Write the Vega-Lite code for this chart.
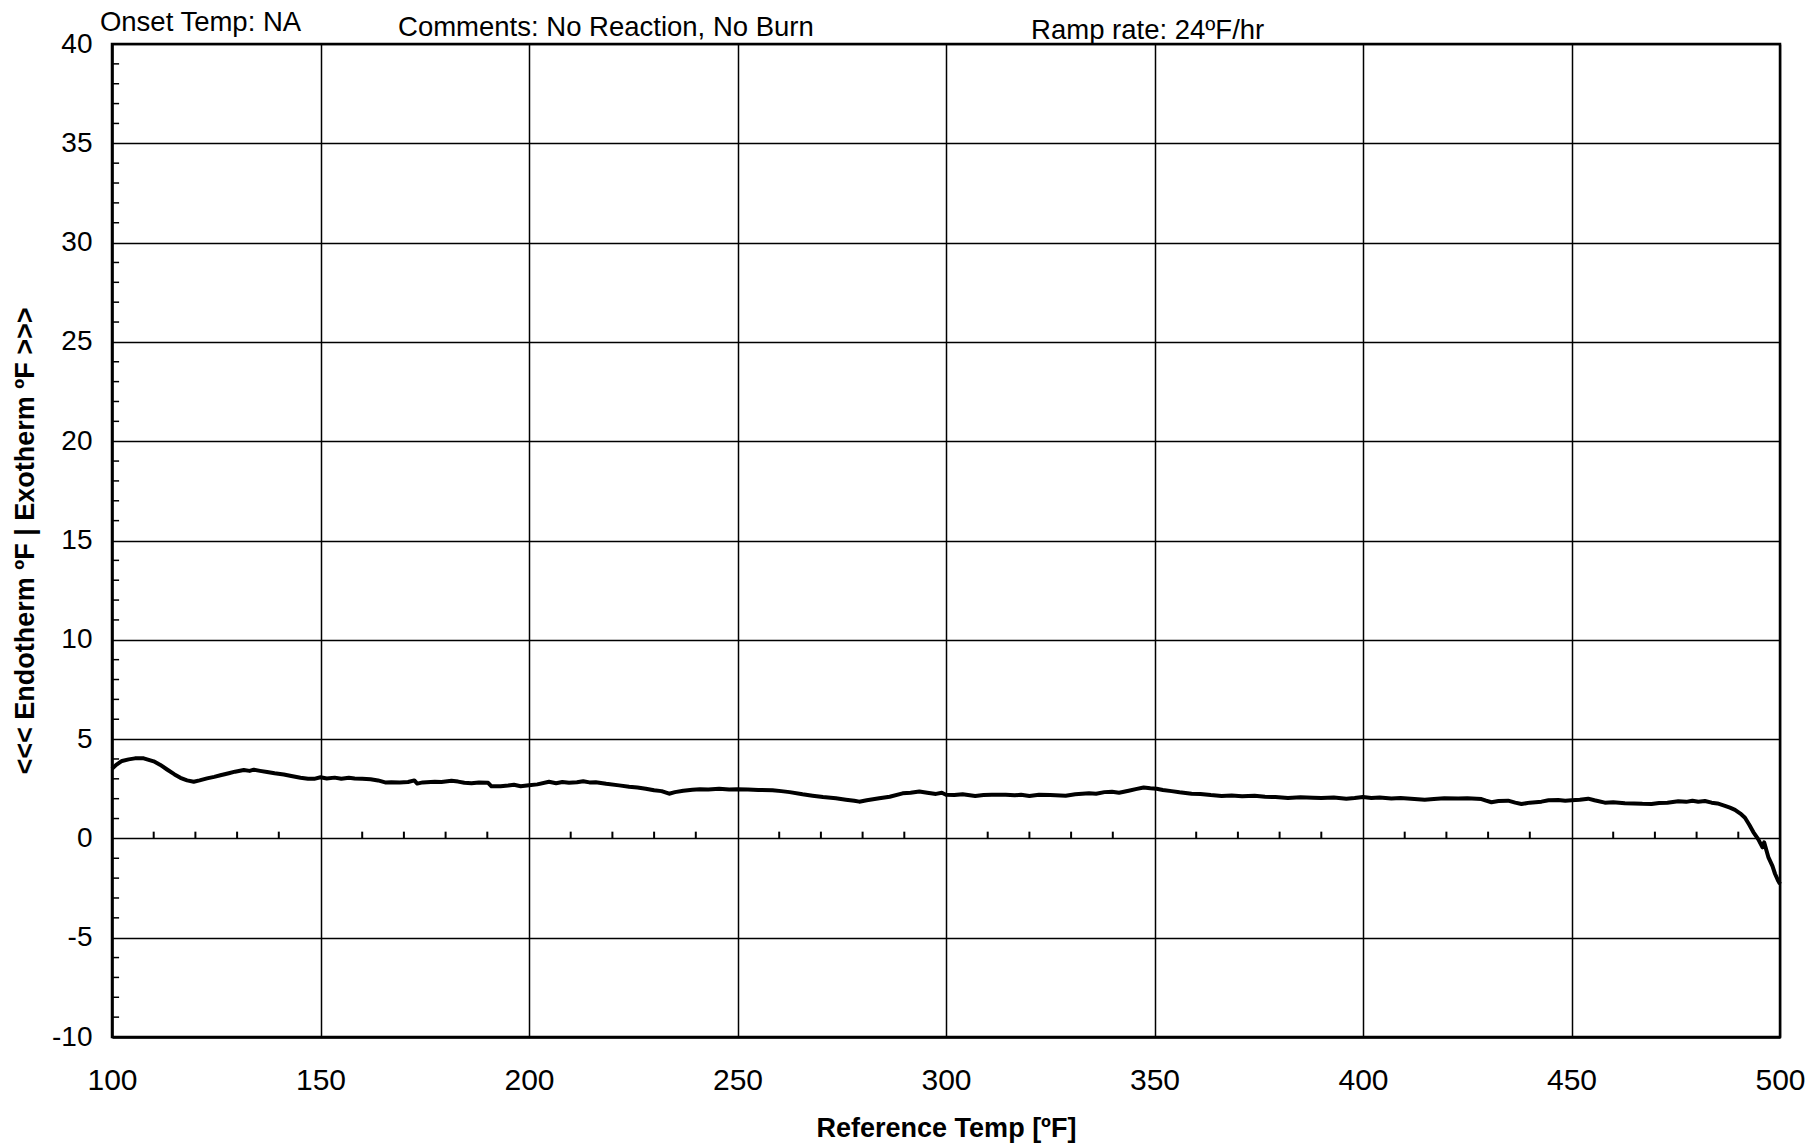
{
  "$schema": "https://vega.github.io/schema/vega-lite/v6.json",
  "width": 1668,
  "height": 993,
  "autosize": {"type": "none"},
  "padding": {"left": 112, "top": 44, "right": 31, "bottom": 110},
  "background": "white",
  "config": {
    "view": {"stroke": "black", "strokeWidth": 2.5},
    "font": "Liberation Sans"
  },
  "datasets": {
    "curve": [
      {"ref": 100, "delta": 3.5}, {"ref": 101, "delta": 3.7}, {"ref": 102.4, "delta": 3.9}, {"ref": 104, "delta": 3.98},
      {"ref": 105.5, "delta": 4.03}, {"ref": 107.6, "delta": 4.03}, {"ref": 110, "delta": 3.88}, {"ref": 111.6, "delta": 3.7},
      {"ref": 113.2, "delta": 3.47}, {"ref": 115, "delta": 3.22}, {"ref": 116.4, "delta": 3.05}, {"ref": 118, "delta": 2.92},
      {"ref": 119.6, "delta": 2.85}, {"ref": 121, "delta": 2.92}, {"ref": 122.8, "delta": 3.02}, {"ref": 124.5, "delta": 3.1},
      {"ref": 126, "delta": 3.18}, {"ref": 128, "delta": 3.28}, {"ref": 129.5, "delta": 3.36}, {"ref": 131.6, "delta": 3.44},
      {"ref": 133, "delta": 3.4}, {"ref": 134, "delta": 3.46}, {"ref": 135.5, "delta": 3.4}, {"ref": 137.2, "delta": 3.34},
      {"ref": 139, "delta": 3.28}, {"ref": 141.2, "delta": 3.22}, {"ref": 143, "delta": 3.14}, {"ref": 145.2, "delta": 3.05},
      {"ref": 147, "delta": 3.0}, {"ref": 148.5, "delta": 3.0}, {"ref": 150, "delta": 3.08}, {"ref": 151.5, "delta": 3.02},
      {"ref": 153.4, "delta": 3.06}, {"ref": 155, "delta": 3.0}, {"ref": 156.8, "delta": 3.05}, {"ref": 158.2, "delta": 3.02},
      {"ref": 160, "delta": 3.0}, {"ref": 162, "delta": 2.98}, {"ref": 163.8, "delta": 2.92}, {"ref": 165.5, "delta": 2.82},
      {"ref": 167, "delta": 2.83}, {"ref": 169, "delta": 2.82}, {"ref": 171, "delta": 2.84}, {"ref": 172.5, "delta": 2.92},
      {"ref": 173.2, "delta": 2.76}, {"ref": 174.5, "delta": 2.82}, {"ref": 177.4, "delta": 2.85}, {"ref": 179, "delta": 2.84},
      {"ref": 181.4, "delta": 2.9}, {"ref": 183, "delta": 2.86}, {"ref": 184.5, "delta": 2.8}, {"ref": 186.2, "delta": 2.78},
      {"ref": 188, "delta": 2.82}, {"ref": 190.2, "delta": 2.8}, {"ref": 191, "delta": 2.62}, {"ref": 193.2, "delta": 2.63},
      {"ref": 195, "delta": 2.66}, {"ref": 196.4, "delta": 2.7}, {"ref": 198, "delta": 2.63}, {"ref": 200, "delta": 2.68},
      {"ref": 202, "delta": 2.72}, {"ref": 204.8, "delta": 2.85}, {"ref": 206.5, "delta": 2.78}, {"ref": 208, "delta": 2.84},
      {"ref": 209.6, "delta": 2.8}, {"ref": 211.5, "delta": 2.83}, {"ref": 213, "delta": 2.88}, {"ref": 214.5, "delta": 2.82},
      {"ref": 216, "delta": 2.83}, {"ref": 218.5, "delta": 2.75}, {"ref": 221.6, "delta": 2.67}, {"ref": 224, "delta": 2.6},
      {"ref": 226, "delta": 2.56}, {"ref": 228, "delta": 2.5}, {"ref": 230, "delta": 2.42}, {"ref": 231.8, "delta": 2.38},
      {"ref": 233.6, "delta": 2.25}, {"ref": 235, "delta": 2.33}, {"ref": 237, "delta": 2.4}, {"ref": 239.2, "delta": 2.45},
      {"ref": 241, "delta": 2.48}, {"ref": 243, "delta": 2.46}, {"ref": 245.6, "delta": 2.5}, {"ref": 248, "delta": 2.46},
      {"ref": 250, "delta": 2.48}, {"ref": 252.5, "delta": 2.46}, {"ref": 255, "delta": 2.44}, {"ref": 258.4, "delta": 2.43},
      {"ref": 260.5, "delta": 2.38}, {"ref": 262.5, "delta": 2.33}, {"ref": 265.6, "delta": 2.22}, {"ref": 268, "delta": 2.15},
      {"ref": 270.5, "delta": 2.08}, {"ref": 273.6, "delta": 2.02}, {"ref": 276, "delta": 1.95}, {"ref": 278, "delta": 1.9},
      {"ref": 279.2, "delta": 1.85}, {"ref": 281, "delta": 1.92}, {"ref": 284, "delta": 2.02}, {"ref": 286.5, "delta": 2.1},
      {"ref": 289.6, "delta": 2.27}, {"ref": 291.5, "delta": 2.3}, {"ref": 293.6, "delta": 2.36}, {"ref": 295.5, "delta": 2.3},
      {"ref": 297.6, "delta": 2.24}, {"ref": 299, "delta": 2.3}, {"ref": 300, "delta": 2.2}, {"ref": 302, "delta": 2.18},
      {"ref": 304, "delta": 2.22}, {"ref": 307, "delta": 2.14}, {"ref": 309, "delta": 2.18}, {"ref": 311, "delta": 2.2},
      {"ref": 314.3, "delta": 2.2}, {"ref": 316.5, "delta": 2.17}, {"ref": 318, "delta": 2.2}, {"ref": 320, "delta": 2.14},
      {"ref": 322.3, "delta": 2.2}, {"ref": 325, "delta": 2.18}, {"ref": 328.7, "delta": 2.15}, {"ref": 331, "delta": 2.22},
      {"ref": 334.3, "delta": 2.27}, {"ref": 336, "delta": 2.25}, {"ref": 338, "delta": 2.33}, {"ref": 339.8, "delta": 2.35},
      {"ref": 341.5, "delta": 2.3}, {"ref": 343.8, "delta": 2.4}, {"ref": 345.5, "delta": 2.48}, {"ref": 347.4, "delta": 2.56},
      {"ref": 349, "delta": 2.52}, {"ref": 350.5, "delta": 2.5}, {"ref": 352, "delta": 2.44}, {"ref": 354.1, "delta": 2.38},
      {"ref": 356, "delta": 2.32}, {"ref": 358.9, "delta": 2.25}, {"ref": 361, "delta": 2.24}, {"ref": 363.5, "delta": 2.18},
      {"ref": 366.1, "delta": 2.14}, {"ref": 368.5, "delta": 2.16}, {"ref": 371, "delta": 2.12}, {"ref": 374, "delta": 2.15},
      {"ref": 376.5, "delta": 2.1}, {"ref": 379, "delta": 2.08}, {"ref": 382, "delta": 2.04}, {"ref": 385, "delta": 2.07},
      {"ref": 388, "delta": 2.05}, {"ref": 390, "delta": 2.04}, {"ref": 393, "delta": 2.06}, {"ref": 396, "delta": 2.0},
      {"ref": 398, "delta": 2.03}, {"ref": 400, "delta": 2.08}, {"ref": 402, "delta": 2.04}, {"ref": 404, "delta": 2.06},
      {"ref": 406.8, "delta": 2.01}, {"ref": 409, "delta": 2.03}, {"ref": 411.5, "delta": 2.0}, {"ref": 414.8, "delta": 1.95},
      {"ref": 417, "delta": 1.98}, {"ref": 419.5, "delta": 2.02}, {"ref": 422.8, "delta": 2.01}, {"ref": 425, "delta": 2.02},
      {"ref": 428.4, "delta": 1.98}, {"ref": 429.5, "delta": 1.9}, {"ref": 430.8, "delta": 1.82}, {"ref": 432.5, "delta": 1.88},
      {"ref": 434.8, "delta": 1.9}, {"ref": 436.5, "delta": 1.8}, {"ref": 438, "delta": 1.73}, {"ref": 440, "delta": 1.8},
      {"ref": 442.8, "delta": 1.85}, {"ref": 444.5, "delta": 1.92}, {"ref": 446.8, "delta": 1.93}, {"ref": 448.5, "delta": 1.9},
      {"ref": 450, "delta": 1.92}, {"ref": 452, "delta": 1.95}, {"ref": 454, "delta": 2.0}, {"ref": 455.5, "delta": 1.92},
      {"ref": 458, "delta": 1.8}, {"ref": 460, "delta": 1.82}, {"ref": 462.8, "delta": 1.77}, {"ref": 465, "delta": 1.76},
      {"ref": 467, "delta": 1.74}, {"ref": 469.2, "delta": 1.73}, {"ref": 471, "delta": 1.78}, {"ref": 473, "delta": 1.8},
      {"ref": 475.6, "delta": 1.87}, {"ref": 477.5, "delta": 1.84}, {"ref": 479, "delta": 1.9}, {"ref": 480.4, "delta": 1.85},
      {"ref": 482, "delta": 1.88}, {"ref": 483.6, "delta": 1.8}, {"ref": 485, "delta": 1.76}, {"ref": 486.8, "delta": 1.64},
      {"ref": 488, "delta": 1.55}, {"ref": 489.2, "delta": 1.44}, {"ref": 490.5, "delta": 1.25}, {"ref": 491.6, "delta": 1.04},
      {"ref": 492.6, "delta": 0.7}, {"ref": 493.6, "delta": 0.32}, {"ref": 494.8, "delta": -0.05}, {"ref": 495.8, "delta": -0.45},
      {"ref": 496.2, "delta": -0.2}, {"ref": 497.2, "delta": -0.94}, {"ref": 498.2, "delta": -1.4}, {"ref": 498.8, "delta": -1.78},
      {"ref": 499.6, "delta": -2.15}, {"ref": 500, "delta": -2.3}
    ],
    "xticks": [
      {"t": 110}, {"t": 120}, {"t": 130}, {"t": 140}, {"t": 160}, {"t": 170}, {"t": 180}, {"t": 190},
      {"t": 210}, {"t": 220}, {"t": 230}, {"t": 240}, {"t": 260}, {"t": 270}, {"t": 280}, {"t": 290},
      {"t": 310}, {"t": 320}, {"t": 330}, {"t": 340}, {"t": 360}, {"t": 370}, {"t": 380}, {"t": 390},
      {"t": 410}, {"t": 420}, {"t": 430}, {"t": 440}, {"t": 460}, {"t": 470}, {"t": 480}, {"t": 490}
    ],
    "yticks": [
      {"v": -9}, {"v": -8}, {"v": -7}, {"v": -6}, {"v": -4}, {"v": -3}, {"v": -2}, {"v": -1},
      {"v": 1}, {"v": 2}, {"v": 3}, {"v": 4}, {"v": 6}, {"v": 7}, {"v": 8}, {"v": 9},
      {"v": 11}, {"v": 12}, {"v": 13}, {"v": 14}, {"v": 16}, {"v": 17}, {"v": 18}, {"v": 19},
      {"v": 21}, {"v": 22}, {"v": 23}, {"v": 24}, {"v": 26}, {"v": 27}, {"v": 28}, {"v": 29},
      {"v": 31}, {"v": 32}, {"v": 33}, {"v": 34}, {"v": 36}, {"v": 37}, {"v": 38}, {"v": 39}
    ]
  },
  "layer": [
    {
      "data": {"name": "curve"},
      "mark": {"type": "line", "color": "black", "strokeWidth": 4, "strokeJoin": "round"},
      "encoding": {
        "x": {
          "field": "ref", "type": "quantitative",
          "scale": {"domain": [100, 500], "nice": false, "zero": false},
          "axis": {
            "title": "Reference Temp [ºF]",
            "values": [100, 150, 200, 250, 300, 350, 400, 450, 500],
            "grid": true, "gridColor": "black", "gridWidth": 1.5, "gridOpacity": 1,
            "ticks": false,
            "domainColor": "black", "domainWidth": 2.5,
            "labelFont": "Liberation Sans", "labelFontSize": 30, "labelColor": "black",
            "labelPadding": 28, "labelFlush": false, "labelOverlap": false,
            "titleFont": "Liberation Sans", "titleFontSize": 27, "titleFontWeight": "bold", "titleColor": "black",
            "titlePadding": 20
          }
        },
        "y": {
          "field": "delta", "type": "quantitative",
          "scale": {"domain": [-10, 40], "nice": false, "zero": false},
          "axis": {
            "title": "<<< Endotherm ºF | Exotherm ºF >>>",
            "values": [-10, -5, 0, 5, 10, 15, 20, 25, 30, 35, 40],
            "labelExpr": "replace(datum.label, '\u2212', '-')",
            "grid": true, "gridColor": "black", "gridWidth": 1.5, "gridOpacity": 1,
            "ticks": false,
            "domainColor": "black", "domainWidth": 2.5,
            "labelFont": "Liberation Sans", "labelFontSize": 28, "labelColor": "black",
            "labelPadding": 20, "labelFlush": false, "labelOverlap": false,
            "titleFont": "Liberation Sans", "titleFontSize": 27, "titleFontWeight": "bold", "titleColor": "black",
            "titlePadding": 12
          }
        }
      }
    },
    {
      "data": {"name": "xticks"},
      "mark": {"type": "rule", "color": "black", "strokeWidth": 2},
      "encoding": {
        "x": {"field": "t", "type": "quantitative"},
        "y": {"datum": 0},
        "y2": {"datum": 0.34}
      }
    },
    {
      "data": {"name": "yticks"},
      "mark": {"type": "rule", "color": "black", "strokeWidth": 1.5},
      "encoding": {
        "y": {"field": "v", "type": "quantitative"},
        "x": {"datum": 100},
        "x2": {"datum": 101.7}
      }
    },
    {
      "data": {"values": [{}]},
      "mark": {"type": "text", "align": "left", "baseline": "middle", "font": "Liberation Sans", "fontSize": 27.5, "color": "black"},
      "encoding": {"x": {"datum": 97.1}, "y": {"datum": 41.06}, "text": {"value": "Onset Temp: NA"}}
    },
    {
      "data": {"values": [{}]},
      "mark": {"type": "text", "align": "left", "baseline": "middle", "font": "Liberation Sans", "fontSize": 27.5, "color": "black"},
      "encoding": {"x": {"datum": 168.6}, "y": {"datum": 40.8}, "text": {"value": "Comments: No Reaction, No Burn"}}
    },
    {
      "data": {"values": [{}]},
      "mark": {"type": "text", "align": "left", "baseline": "middle", "font": "Liberation Sans", "fontSize": 27.5, "color": "black"},
      "encoding": {"x": {"datum": 320.4}, "y": {"datum": 40.65}, "text": {"value": "Ramp rate: 24ºF/hr"}}
    }
  ]
}
